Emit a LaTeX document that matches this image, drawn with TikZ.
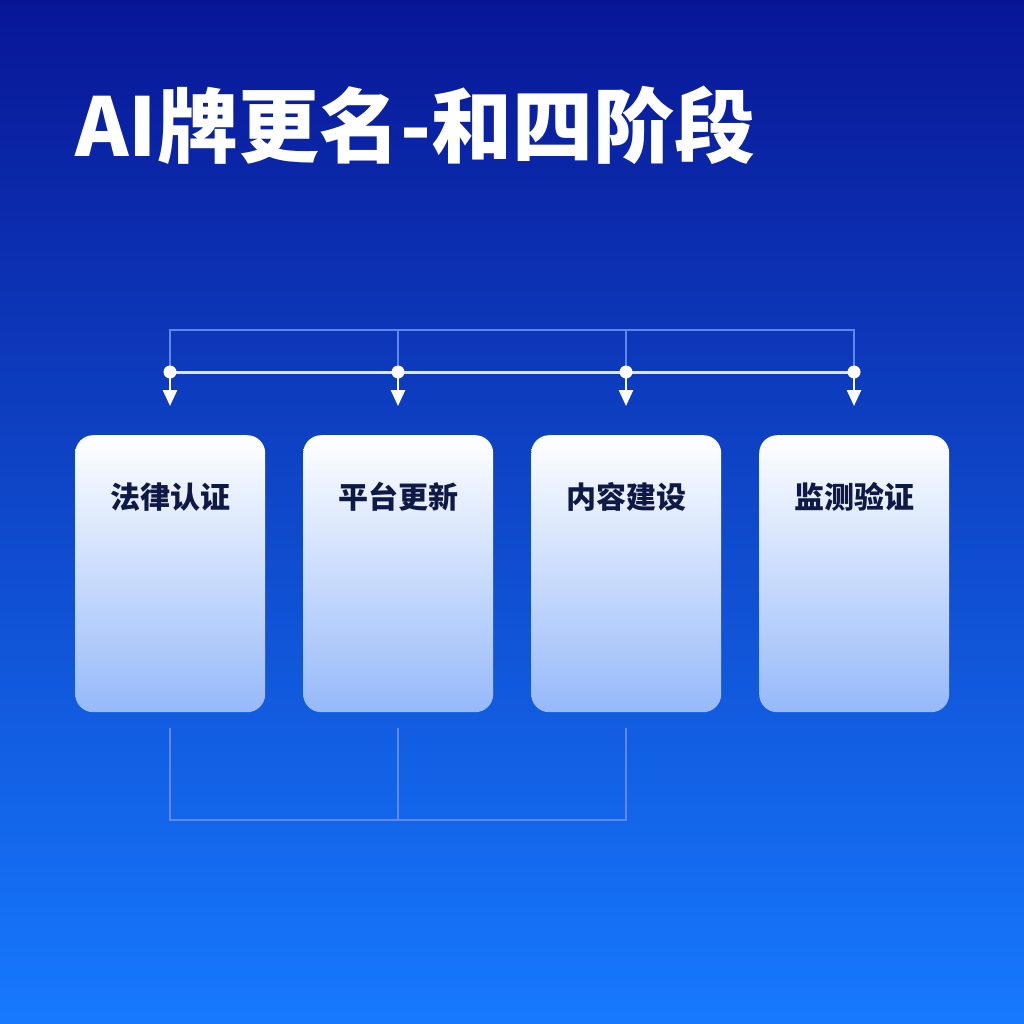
\documentclass[tikz,border=0pt]{standalone}
\usepackage{fontspec}
\newfontfamily\cjk{Noto Sans CJK SC}
\usetikzlibrary{arrows.meta}
\definecolor{bgtop}{RGB}{8,22,150}
\definecolor{bgbot}{RGB}{22,122,255}
\definecolor{boxbot}{RGB}{150,185,250}
\definecolor{faint}{RGB}{95,135,240}
\definecolor{txt}{RGB}{15,25,70}
\begin{document}
\begin{tikzpicture}[x=1pt,y=-1pt,
  card/.style={rounded corners=18pt,top color=white,bottom color=boxbot,draw=none,minimum width=190pt,minimum height=277pt,anchor=north west,inner sep=0pt},
  lbl/.style={font=\cjk\bfseries\fontsize{30}{30}\selectfont,text=txt,anchor=center},
  thin/.style={draw=faint,line width=2pt},
  main/.style={draw=white!80!faint,line width=3pt},
  dot/.style={circle,fill=white,inner sep=0pt,minimum size=13pt},
  arr/.style={draw=white,line width=2.5pt,-{Triangle[width=14pt,length=16pt]}}]
\shade[top color=bgtop,bottom color=bgbot] (0,0) rectangle (1024,1024);
\useasboundingbox (0,0) rectangle (1024,1024);
\node[font=\cjk\bfseries\fontsize{81}{81}\selectfont,text=white,anchor=west,inner sep=0pt] (title) at (75,125) {AI牌更名-和四阶段};
\foreach \i/\x/\t in {1/75/法律认证,2/303/平台更新,3/531/内容建设,4/759/监测验证}{
  \node[card] (b\i) at (\x,435) {};
  \node[lbl] (l\i) at (\x+95,497) {\t};
  \coordinate (t\i) at (\x+95,330);
  \coordinate (m\i) at (\x+95,372);
  \coordinate (a\i) at (\x+95,406);
  \coordinate (u\i) at (\x+95,728);
  \coordinate (d\i) at (\x+95,820);
}
\draw[thin] (m1) -- (t1) -- (t4) -- (m4);
\draw[thin] (t2) -- (m2) (t3) -- (m3);
\draw[thin] (u1) -- (d1) -- (d3) -- (u3) (u2) -- (d2);
\draw[main] (m1) -- (m4);
\foreach \i in {1,...,4}{
  \draw[arr] (m\i) -- (a\i);
  \node[dot] (p\i) at (m\i) {};
}
\end{tikzpicture}
\end{document}
